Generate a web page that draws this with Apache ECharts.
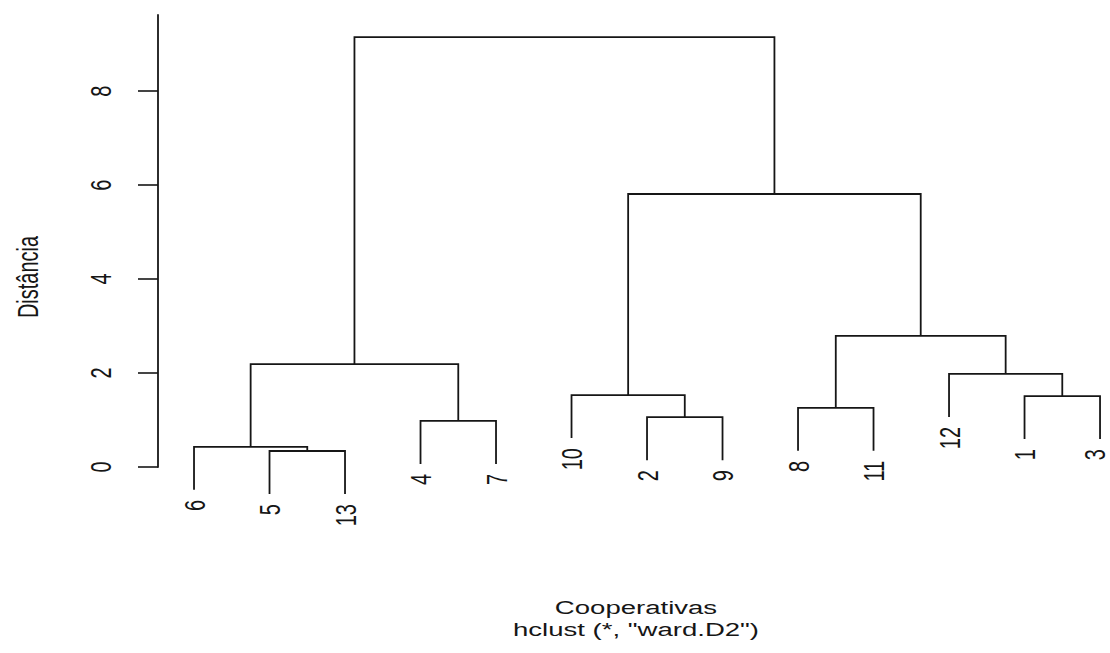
<!DOCTYPE html>
<html>
<head>
<meta charset="utf-8">
<script src="https://cdn.jsdelivr.net/npm/echarts@6/dist/echarts.min.js"></script>
<style>
  html, body { margin: 0; padding: 0; background: #fff; }
  #chart { width: 1110px; height: 653px; }
</style>
</head>
<body>
<div id="chart"></div>
<script>
// Leaf order along the x axis (observation numbers)
const leafLabels = ['6', '5', '13', '4', '7', '10', '2', '9', '8', '11', '12', '1', '3'];
// Agglomeration steps: negative = observation, positive = earlier step (1-based)
const mergeLeft  = [-5, -6, -4, -2, -8, -1, -10, -12, 2, 5, 7, 9];
const mergeRight = [-13, 1, -7, -9, -11, -3, 4, 6, 3, 8, 10, 11];
const mergeHeight = [0.34, 0.43, 0.98, 1.06, 1.26, 1.51, 1.53, 1.98, 2.19, 2.79, 5.81, 9.15];
// Axis ticks and titles
const yTicks = [0, 2, 4, 6, 8];
const yTitle = 'Distância';
const xTitle = 'Cooperativas';
const subTitle = 'hclust (*, "ward.D2")';

// Leaves hang below their parent by 10% of the tallest merge
const hang = 0.1 * Math.max(...mergeHeight);
const leafIndex = {};
leafLabels.forEach((l, i) => { leafIndex[l] = i; });
const nodeX = [];
const childX = c => (c < 0 ? leafIndex[String(-c)] : nodeX[c - 1]);
const childH = (c, h) => (c < 0 ? h - hang : mergeHeight[c - 1]);

// One bracket per merge: [xLeft, xRight, yLeft, yRight, height]
const branchData = mergeHeight.map((h, k) => {
  const xl = childX(mergeLeft[k]);
  const xr = childX(mergeRight[k]);
  nodeX[k] = (xl + xr) / 2;
  return [xl, xr, childH(mergeLeft[k], h), childH(mergeRight[k], h), h];
});

// Leaf label anchors: [leaf position, bottom of its hanging line]
const leafData = leafLabels.map((l, i) => {
  const obs = -Number(l);
  let k = mergeLeft.indexOf(obs);
  if (k < 0) k = mergeRight.indexOf(obs);
  return [i, mergeHeight[k] - hang];
});

const FONT = '"Liberation Sans", Arial, sans-serif';
const INK = '#161616';
const STRETCH = 1.5;
const LABEL_SIZE = 20;

// Vertical text, reading bottom to top, widened across the page
function verticalText(x, y, text, align, size) {
  return {
    type: 'text', x: x, y: y, rotation: Math.PI / 2, scaleY: STRETCH,
    style: { text: text, align: align, verticalAlign: 'middle', fontSize: size, lineHeight: 12, fontFamily: FONT, fill: INK }
  };
}

const chart = echarts.init(document.getElementById('chart'), null, { renderer: 'svg' });
chart.setOption({
  animation: false,
  backgroundColor: '#ffffff',
  grid: { left: 158, right: 0, top: 15, bottom: 186 },
  xAxis: { type: 'value', min: -0.477, max: 12.132, show: false },
  yAxis: {
    type: 'value', min: 0, max: 9.62, position: 'left',
    axisLine: { show: true, onZero: false, lineStyle: { color: INK, width: 1.8 } },
    axisTick: { show: true, inside: false, length: 20, customValues: yTicks, lineStyle: { color: INK, width: 1.6 } },
    axisLabel: { show: false },
    splitLine: { show: false }
  },
  graphic: [
    verticalText(27, 277, yTitle, 'center', 20),
    {
      type: 'text', x: 636, y: 608, scaleX: 1.45,
      style: { text: xTitle, align: 'center', verticalAlign: 'middle', fontSize: 19, fontFamily: FONT, fill: INK }
    },
    {
      type: 'text', x: 636, y: 630, scaleX: 1.45,
      style: { text: subTitle, align: 'center', verticalAlign: 'middle', fontSize: 19, fontFamily: FONT, fill: INK }
    }
  ],
  series: [
    {
      type: 'custom',
      data: branchData,
      encode: { x: [0, 1], y: [2, 3, 4] },
      renderItem: (params, api) => {
        const p1 = api.coord([api.value(0), api.value(2)]);
        const p2 = api.coord([api.value(0), api.value(4)]);
        const p3 = api.coord([api.value(1), api.value(4)]);
        const p4 = api.coord([api.value(1), api.value(3)]);
        return {
          type: 'polyline',
          shape: { points: [p1, p2, p3, p4] },
          style: { stroke: INK, lineWidth: 1.8, fill: null }
        };
      }
    },
    {
      type: 'custom',
      data: leafData,
      encode: { x: 0, y: 1 },
      renderItem: (params, api) => {
        const p = api.coord([api.value(0), api.value(1)]);
        // keep the widened label box inside the canvas at the right edge
        const maxX = api.getWidth() - LABEL_SIZE * STRETCH / 2 - 1;
        return verticalText(Math.min(p[0], maxX), p[1] + 10, leafLabels[params.dataIndex], 'right', LABEL_SIZE);
      }
    },
    {
      type: 'custom',
      data: yTicks.map(v => [0, v]),
      encode: { x: 0, y: 1 },
      renderItem: (params, api) => {
        const p = api.coord([api.value(0), api.value(1)]);
        return verticalText(100, p[1], String(yTicks[params.dataIndex]), 'center', LABEL_SIZE);
      }
    }
  ]
});
</script>
</body>
</html>
